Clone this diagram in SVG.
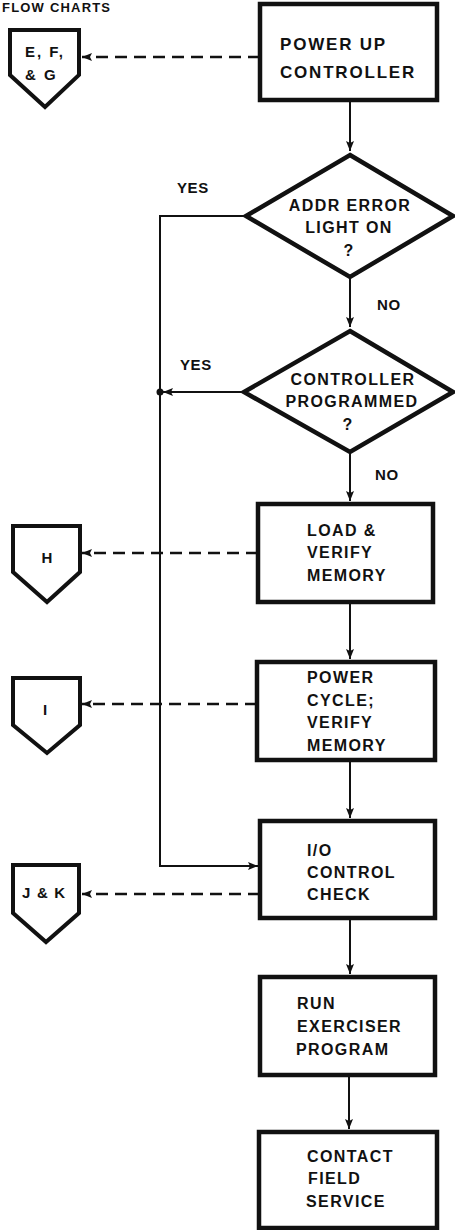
<svg xmlns="http://www.w3.org/2000/svg" width="455" height="1230" viewBox="0 0 455 1230">
<defs>
<style>
.box{fill:#fff;stroke:#111;stroke-width:4.5;stroke-linejoin:miter}
.pent{fill:#fff;stroke:#111;stroke-width:4;stroke-linejoin:miter}
.t{font-family:"Liberation Sans",Arial,sans-serif;font-weight:bold;font-size:16px;fill:#111;letter-spacing:1.4px}
.tb{font-size:17px;letter-spacing:1.8px}
.lbl{font-family:"Liberation Sans",Arial,sans-serif;font-weight:bold;font-size:15px;fill:#111;letter-spacing:0.6px}
.pt{font-family:"Liberation Sans",Arial,sans-serif;font-weight:bold;font-size:15px;fill:#111;letter-spacing:2px}
.c{text-anchor:middle}
.ln{fill:none;stroke:#111;stroke-width:2}
.dash{fill:none;stroke:#111;stroke-width:2.5;stroke-dasharray:12,7}
</style>
<marker id="ah" viewBox="0 0 10 8" refX="10" refY="4" markerWidth="10" markerHeight="8" markerUnits="userSpaceOnUse" orient="auto">
<path d="M0,0 L10,4 L0,8 L2,4 z" fill="#111"/>
</marker>
</defs>
<rect width="455" height="1230" fill="#fff"/>
<text class="t" x="2" y="12" style="font-size:13px;letter-spacing:1.2px">FLOW CHARTS</text>

<g id="connectors">
<path class="dash" d="M260,57 H82" marker-end="url(#ah)"/>
<path class="ln" d="M350,102 V151" marker-end="url(#ah)"/>
<path class="ln" d="M245,216 H160 V866 H258" marker-end="url(#ah)"/>
<path class="ln" d="M350,277 V327" marker-end="url(#ah)"/>
<path class="ln" d="M243,392 H163" marker-end="url(#ah)"/>
<circle cx="160" cy="392" r="3.5" fill="#111"/>
<path class="ln" d="M350,452 V501" marker-end="url(#ah)"/>
<path class="dash" d="M258,553 H82" marker-end="url(#ah)"/>
<path class="ln" d="M350,602 V659" marker-end="url(#ah)"/>
<path class="dash" d="M257,704 H82" marker-end="url(#ah)"/>
<path class="ln" d="M350,760 V818" marker-end="url(#ah)"/>
<path class="dash" d="M260,894 H82" marker-end="url(#ah)"/>
<path class="ln" d="M350,918 V974" marker-end="url(#ah)"/>
<path class="ln" d="M349,1075 V1129" marker-end="url(#ah)"/>
<text class="lbl" x="177" y="193">YES</text>
<text class="lbl" x="377" y="310">NO</text>
<text class="lbl" x="180" y="370">YES</text>
<text class="lbl" x="375" y="480">NO</text>
</g>

<g id="n_power_up">
<rect class="box" x="260" y="4" width="177" height="96"/>
<text class="t tb" x="280" y="50">POWER UP</text>
<text class="t tb" x="280" y="78">CONTROLLER</text>
</g>

<g id="n_efg">
<polygon class="pent" points="10,30 79,30 79,75 45,107 10,75"/>
<text class="pt" x="25" y="57">E, F,</text>
<text class="pt" x="25" y="80">&amp; G</text>
</g>

<g id="n_addr_error">
<polygon class="box" points="350,155 453,216 350,277 246,216"/>
<text class="t c" x="350" y="211">ADDR ERROR</text>
<text class="t c" x="349" y="233">LIGHT ON</text>
<text class="t c" x="349" y="256">?</text>
</g>

<g id="n_programmed">
<polygon class="box" points="350,331 453,392 350,452 244,392"/>
<text class="t c" x="353" y="385">CONTROLLER</text>
<text class="t c" x="352" y="407">PROGRAMMED</text>
<text class="t c" x="348" y="430">?</text>
</g>

<g id="n_load">
<rect class="box" x="258" y="504" width="175" height="98"/>
<text class="t" x="307" y="536">LOAD &amp;</text>
<text class="t" x="307" y="558">VERIFY</text>
<text class="t" x="307" y="581">MEMORY</text>
</g>

<g id="n_h">
<polygon class="pent" points="13,526 80,526 80,572 47,602 13,572"/>
<text class="pt c" x="48" y="563">H</text>
</g>

<g id="n_power_cycle">
<rect class="box" x="257" y="662" width="178" height="98"/>
<text class="t" x="307" y="683">POWER</text>
<text class="t" x="307" y="706">CYCLE;</text>
<text class="t" x="307" y="728">VERIFY</text>
<text class="t" x="307" y="751">MEMORY</text>
</g>

<g id="n_i">
<polygon class="pent" points="13,678 80,678 80,725 47,753 13,725"/>
<text class="pt c" x="46" y="715">I</text>
</g>

<g id="n_io">
<rect class="box" x="260" y="821" width="175" height="97"/>
<text class="t" x="307" y="856">I/O</text>
<text class="t" x="307" y="878">CONTROL</text>
<text class="t" x="307" y="900">CHECK</text>
</g>

<g id="n_jk">
<polygon class="pent" points="13,865 79,865 79,913 46,942 13,913"/>
<text class="pt" x="22" y="898" style="letter-spacing:1.2px">J &amp; K</text>
</g>

<g id="n_run">
<rect class="box" x="260" y="977" width="175" height="98"/>
<text class="t" x="297" y="1009">RUN</text>
<text class="t" x="297" y="1032">EXERCISER</text>
<text class="t" x="296" y="1055">PROGRAM</text>
</g>

<g id="n_contact">
<rect class="box" x="259" y="1132" width="178" height="96"/>
<text class="t" x="307" y="1162">CONTACT</text>
<text class="t" x="308" y="1184">FIELD</text>
<text class="t" x="306" y="1207">SERVICE</text>
</g>
</svg>
